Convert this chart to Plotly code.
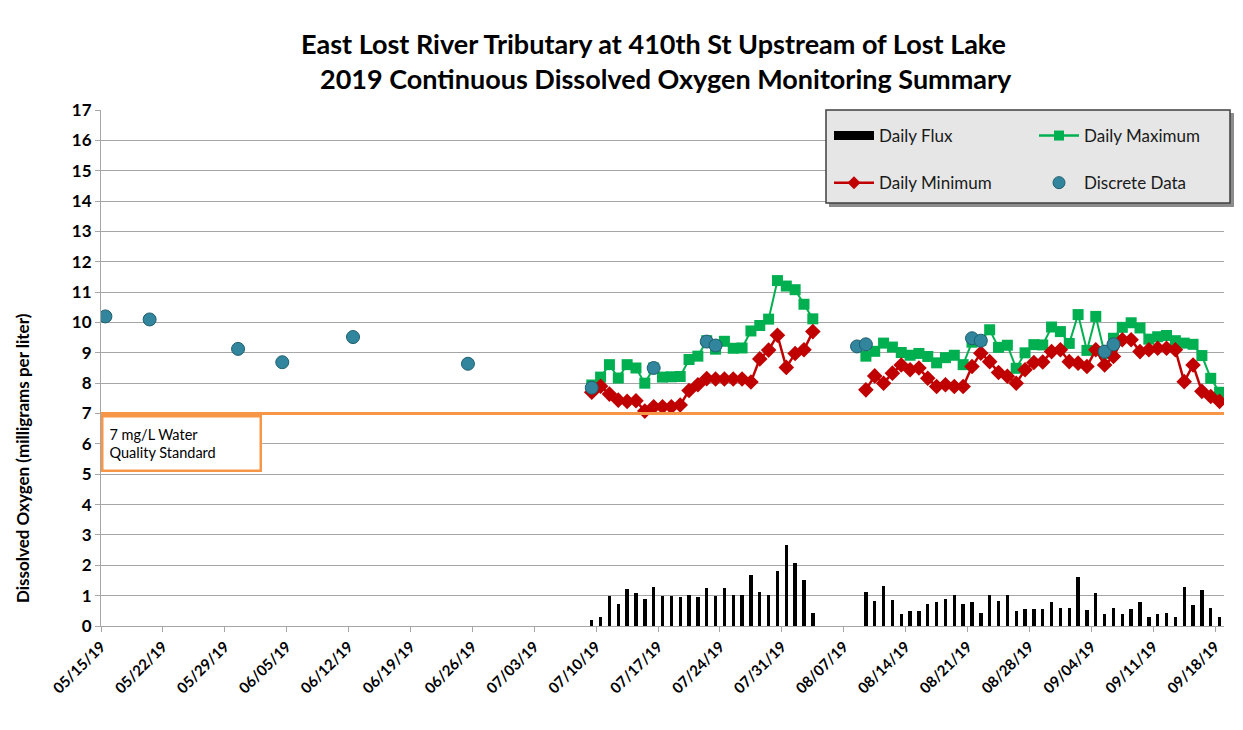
import plotly.graph_objects as go
import pandas as pd

# ---------------- data ----------------
cont_dates = pd.date_range("2019-07-09", "2019-09-18", freq="D")

daily_max = [7.94, 8.20, 8.61, 8.17, 8.61, 8.50, 8.00, 8.50, 8.20, 8.21, 8.22, 8.78, 8.89,
             9.40, 9.12, 9.38, 9.15, 9.16, 9.72, 9.90, 10.11, 11.38, 11.20, 11.08, 10.60, 10.12,
             None, None, None, None, None,
             8.89, 9.05, 9.32, 9.19, 9.01, 8.92, 8.98, 8.88, 8.67, 8.84, 8.92, 8.61, 9.35, 9.41,
             9.76, 9.18, 9.25, 8.49, 9.00, 9.27, 9.26, 9.85, 9.70, 9.31, 10.26, 9.08, 10.20, 8.98,
             9.48, 9.84, 9.99, 9.82, 9.45, 9.53, 9.57, 9.40, 9.32, 9.28, 8.91, 8.16, 7.70]

daily_min = [7.70, 7.90, 7.64, 7.44, 7.40, 7.42, 7.08, 7.22, 7.22, 7.22, 7.28, 7.76, 7.95,
             8.15, 8.14, 8.14, 8.14, 8.14, 8.04, 8.80, 9.09, 9.58, 8.52, 8.98, 9.10, 9.70,
             None, None, None, None, None,
             7.78, 8.24, 8.00, 8.33, 8.60, 8.44, 8.50, 8.16, 7.89, 7.95, 7.89, 7.89, 8.55, 8.99,
             8.71, 8.35, 8.23, 8.00, 8.44, 8.68, 8.70, 9.04, 9.10, 8.71, 8.66, 8.55, 9.10, 8.60,
             8.88, 9.43, 9.43, 9.04, 9.10, 9.15, 9.15, 9.10, 8.05, 8.60, 7.73, 7.56, 7.40]

daily_flux = [0.21, 0.29, 0.99, 0.73, 1.21, 1.08, 0.90, 1.28, 1.00, 0.99, 0.94, 1.02, 0.94,
              1.24, 0.98, 1.24, 1.01, 1.02, 1.68, 1.11, 1.03, 1.80, 2.66, 2.09, 1.50, 0.42,
              None, None, None, None, None,
              1.11, 0.81, 1.32, 0.86, 0.41, 0.48, 0.48, 0.72, 0.78, 0.89, 1.03, 0.72, 0.80, 0.42,
              1.03, 0.81, 1.01, 0.48, 0.56, 0.56, 0.56, 0.80, 0.60, 0.60, 1.60, 0.52, 1.10, 0.38,
              0.60, 0.40, 0.55, 0.78, 0.30, 0.38, 0.42, 0.30, 1.27, 0.68, 1.18, 0.60, 0.30]

discrete_dates = ["2019-05-15", "2019-05-20", "2019-05-30", "2019-06-04", "2019-06-12",
                  "2019-06-25", "2019-07-09", "2019-07-16", "2019-07-22", "2019-07-23",
                  "2019-08-08", "2019-08-09", "2019-08-21", "2019-08-22", "2019-09-05",
                  "2019-09-06"]
discrete_values = [10.20, 10.10, 9.13, 8.69, 9.52, 8.64, 7.85, 8.50, 9.37, 9.24,
                   9.21, 9.28, 9.48, 9.40, 9.04, 9.28]

standard_value = 7
title_lines = ["East Lost River Tributary at 410th St Upstream of Lost Lake",
               "2019 Continuous Dissolved Oxygen Monitoring Summary"]
y_title = "Dissolved Oxygen (milligrams per liter)"
standard_label = "7 mg/L Water<br>Quality Standard"

# ---------------- layout helpers ----------------
W, H = 1243, 730
L, R, T, B = 101, 19, 110, 104
PW, PH = W - L - R, H - T - B


def px(xp):
    return (xp - L) / PW


def py(yp):
    return (H - B - yp) / PH


noon = pd.Timedelta(hours=12)
x_cont = cont_dates + noon
x_disc = pd.to_datetime(discrete_dates) + noon
DAY_MS = 86400000

GREEN = "#00B050"
RED = "#C00000"
TEAL = "#31859C"
ORANGE = "#F79646"
FONT = "Lato"

fig = go.Figure()

fig.add_trace(go.Bar(x=x_cont, y=daily_flux, width=0.38 * DAY_MS,
                     marker=dict(color="black", line=dict(width=0)),
                     name="Daily Flux", showlegend=False))

fig.add_trace(go.Scatter(x=x_cont, y=daily_max, mode="lines+markers",
                         line=dict(color=GREEN, width=2),
                         marker=dict(symbol="square", size=11, color=GREEN),
                         name="Daily Maximum", showlegend=False, connectgaps=False))

fig.add_trace(go.Scatter(x=x_cont, y=daily_min, mode="lines+markers",
                         line=dict(color=RED, width=2.5),
                         marker=dict(symbol="diamond", size=12, color=RED),
                         name="Daily Minimum", showlegend=False, connectgaps=False))

fig.add_trace(go.Scatter(x=x_disc, y=discrete_values, mode="markers",
                         marker=dict(symbol="circle", size=13, color=TEAL,
                                     line=dict(color="#205E6E", width=1)),
                         name="Discrete Data", showlegend=False))

# legend-only entries
fig.add_trace(go.Scatter(x=[None], y=[None], mode="lines", name="Daily Flux",
                         line=dict(color="black", width=9), legend="legend",
                         legendgroup="a"))
fig.add_trace(go.Scatter(x=[None], y=[None], mode="lines+markers", name="Daily Minimum",
                         line=dict(color=RED, width=2.5),
                         marker=dict(symbol="diamond", size=10, color=RED),
                         legend="legend", legendgroup="b"))
fig.add_trace(go.Scatter(x=[None], y=[None], mode="lines+markers", name="Daily Maximum",
                         line=dict(color=GREEN, width=2.5),
                         marker=dict(symbol="square", size=10, color=GREEN),
                         legend="legend2", legendgroup="c"))
fig.add_trace(go.Scatter(x=[None], y=[None], mode="markers", name="Discrete Data",
                         marker=dict(symbol="circle", size=12, color=TEAL,
                                     line=dict(color="#205E6E", width=1)),
                         legend="legend2", legendgroup="d"))

# standard line
fig.add_hline(y=standard_value, line=dict(color=ORANGE, width=3), layer="above")

shapes = [
    # outer chart border
    dict(type="rect", xref="paper", yref="paper", x0=px(5), x1=px(1239), y0=py(727), y1=py(-2),
         line=dict(color="#8C8C8C", width=1.2), fillcolor="rgba(0,0,0,0)", layer="above"),
    # legend shadow
    dict(type="rect", xref="paper", yref="paper", x0=px(829), x1=px(1234), y0=py(207), y1=py(113),
         line=dict(width=0), fillcolor="#8C8C8C", layer="above"),
    # legend box
    dict(type="rect", xref="paper", yref="paper", x0=px(826), x1=px(1230), y0=py(203), y1=py(110),
         line=dict(color="#3F3F3F", width=1.5), fillcolor="#E6E6E6", layer="above"),
]

annotations = [
    dict(text="<b>%s</b>" % title_lines[0], x=px(653), y=py(43), xref="paper", yref="paper",
         showarrow=False, font=dict(family=FONT, size=27, color="black"),
         xanchor="center", yanchor="middle"),
    dict(text="<b>%s</b>" % title_lines[1], x=px(666), y=py(79), xref="paper", yref="paper",
         showarrow=False, font=dict(family=FONT, size=27, color="black"),
         xanchor="center", yanchor="middle"),
    dict(text=standard_label, x=px(101), y=py(415), xref="paper", yref="paper",
         showarrow=False, align="left", xanchor="left", yanchor="top",
         font=dict(family=FONT, size=14.5, color="black"),
         bordercolor=ORANGE, borderwidth=2.5, bgcolor="white",
         width=144, height=40, borderpad=6),
    dict(text="<b>%s</b>" % y_title, x=px(22), y=py(458), xref="paper", yref="paper",
         showarrow=False, textangle=-90, xanchor="center", yanchor="middle",
         font=dict(family=FONT, size=17, color="black")),
]

fig.update_layout(
    width=W, height=H,
    margin=dict(l=L, r=R, t=T, b=B, pad=0),
    paper_bgcolor="white", plot_bgcolor="white",
    bargap=0,
    showlegend=True,
    shapes=shapes,
    annotations=annotations,
    legend=dict(x=px(829), y=py(118), xanchor="left", yanchor="top",
                bgcolor="rgba(0,0,0,0)", borderwidth=0,
                font=dict(family=FONT, size=17, color="#1a1a1a"),
                traceorder="grouped", tracegroupgap=22, itemwidth=40),
    legend2=dict(x=px(1034), y=py(118), xanchor="left", yanchor="top",
                 bgcolor="rgba(0,0,0,0)", borderwidth=0,
                 font=dict(family=FONT, size=17, color="#1a1a1a"),
                 traceorder="grouped", tracegroupgap=22, itemwidth=40),
    xaxis=dict(type="date", range=["2019-05-15", "2019-09-19"],
               tick0="2019-05-15", dtick=7 * DAY_MS, tickformat="%m/%d/%y",
               tickangle=-45, tickfont=dict(family=FONT, size=15, color="black", weight="bold"),
               showgrid=False, showline=True, linecolor="#A6A6A6", linewidth=1,
               ticks="outside", ticklen=5, tickcolor="#A6A6A6", zeroline=False),
    yaxis=dict(range=[0, 17], dtick=1, tick0=0,
               tickfont=dict(family=FONT, size=17, color="black", weight="bold"),
               showgrid=True, gridcolor="#A6A6A6", gridwidth=1,
               showline=True, linecolor="#A6A6A6", linewidth=1,
               ticks="outside", ticklen=5, tickcolor="#A6A6A6", zeroline=False),
)

fig.write_html("out.html", config={"displayModeBar": False},
               post_script="document.body.style.margin='0px';")
